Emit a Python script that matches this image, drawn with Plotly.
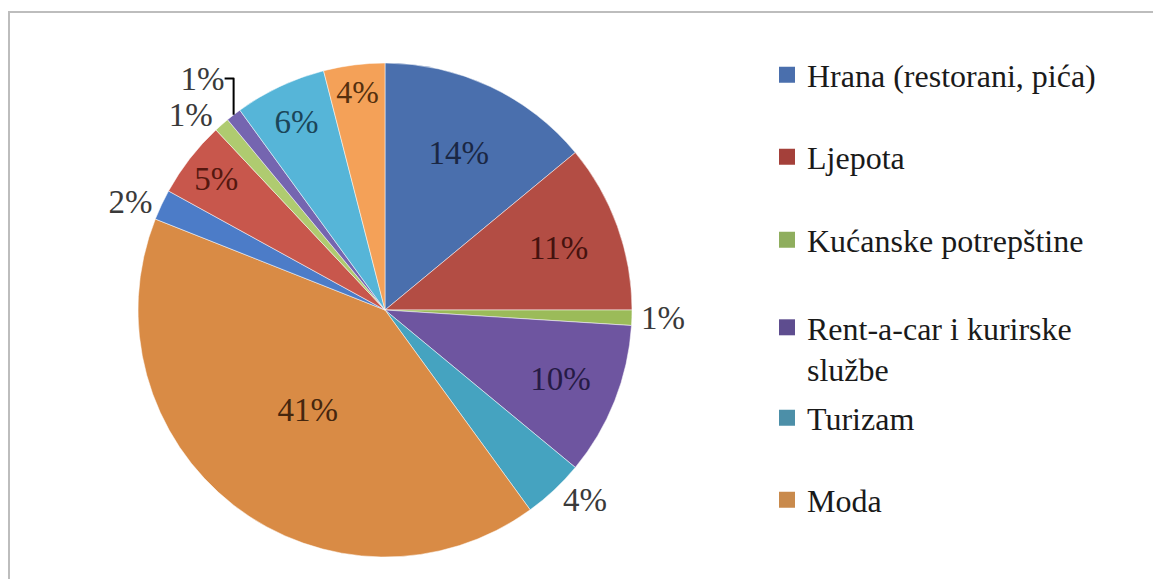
import plotly.graph_objects as go

categories = ["Hrana (restorani, pića)", "Ljepota", "Kućanske potrepštine",
              "Rent-a-car i kurirske<br>službe", "Turizam", "Moda"]
# slices clockwise from 12 o'clock (the category colours repeat twice)
slice_labels = ["Hrana A", "Ljepota A", "Kućanske A", "Rent-a-car A", "Turizam A", "Moda A",
                "Hrana B", "Ljepota B", "Kućanske B", "Rent-a-car B", "Turizam B", "Moda B"]
slice_values = [14, 11, 1, 10, 4, 41, 2, 5, 1, 1, 6, 4]
slice_textpos = ["inside", "inside", "outside", "inside", "outside", "inside",
                 "outside", "inside", "outside", "outside", "inside", "inside"]

colors_a = ["#4A6FAD", "#B34D44", "#9BBB59", "#6E55A0", "#45A3C0", "#D98B45"]
colors_b = ["#4C7CC8", "#C8574C", "#AFCB70", "#7565B0", "#56B5D8", "#F4A158"]
legend_colors = ["#4A6FAD", "#A4403A", "#8FAE5E", "#5E4D8F", "#4C8FA8", "#C98A4C"]
text_colors = ["#1A2744", "#45120E", "#3A3A3A", "#261B45", "#3A3A3A", "#45260E",
               "#3A3A3A", "#55170F", "#3A3A3A", "#3A3A3A", "#1B4558", "#55300E"]

SERIF = "Liberation Serif, 'DejaVu Serif', 'Times New Roman', Times, serif"

# page body has an 8px margin; figure sized to fit inside the window
W, H, OFF = 1145, 571, 8


def px_x(sx):
    return (sx - OFF) / W


def px_y(sy):
    return 1 - (sy - OFF) / H


fig = go.Figure()
fig.add_trace(go.Pie(
    labels=slice_labels,
    values=slice_values,
    sort=False,
    direction="clockwise",
    rotation=0,
    marker=dict(colors=colors_a + colors_b, line=dict(color="rgba(255,255,255,0.5)", width=1)),
    texttemplate="%{value}%",
    textposition=slice_textpos,
    insidetextorientation="horizontal",
    textfont=dict(family=SERIF, size=33, color=text_colors),
    showlegend=False,
    domain=dict(x=[px_x(138), px_x(632)], y=[px_y(557), px_y(63)]),
    hoverinfo="label+percent",
))

legend_y_px = [75, 157, 240, 300, 418, 500]
legend_anchor = ["middle", "middle", "middle", "top", "middle", "middle"]
layout_legends = {}
for i, (name, col) in enumerate(zip(categories, legend_colors)):
    key = "legend" if i == 0 else f"legend{i + 1}"
    fig.add_trace(go.Scatter(
        x=[None], y=[None], mode="markers", name=name,
        marker=dict(symbol="square", size=16, color=col),
        legend=key, showlegend=True,
    ))
    layout_legends[key] = dict(
        x=px_x(767), xanchor="left",
        y=px_y(legend_y_px[i]), yanchor=legend_anchor[i],
        valign="top",
        bgcolor="rgba(0,0,0,0)", borderwidth=0,
        font=dict(family=SERIF, size=32, color="#1A1A1A"),
        itemclick=False, itemdoubleclick=False,
    )

fig.update_layout(
    width=W, height=H,
    margin=dict(l=0, r=0, t=0, b=0),
    paper_bgcolor="white", plot_bgcolor="white",
    xaxis=dict(visible=False), yaxis=dict(visible=False),
    shapes=[dict(type="rect", xref="paper", yref="paper",
                 x0=px_x(9), x1=1.02, y0=px_y(582), y1=px_y(12),
                 line=dict(color="#BDBDBD", width=2), fillcolor="rgba(0,0,0,0)", layer="below")],
    **layout_legends,
)

fig.write_html("out.html")
